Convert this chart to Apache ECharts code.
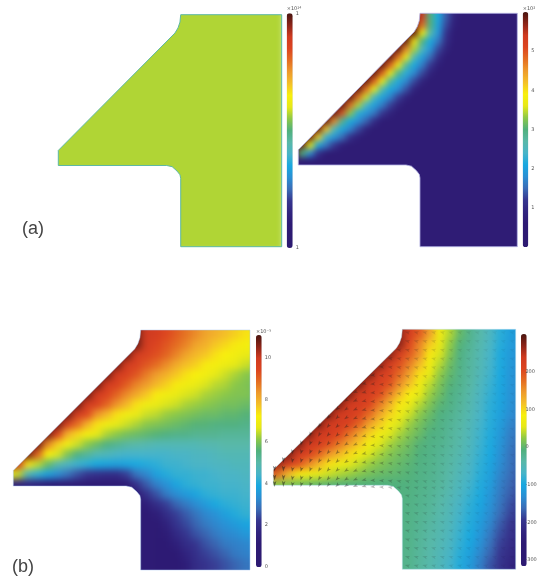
<!DOCTYPE html>
<html>
<head>
<meta charset="utf-8">
<title>Field maps</title>
<style>
  html, body { margin: 0; background: #fff; }
  #chart { width: 538px; height: 579px; }
</style>
<script src="https://cdn.jsdelivr.net/npm/echarts@6/dist/echarts.min.js"></script>
</head>
<body>
<div id="chart"></div>
<script>
const _ = null, n = 0.4, m = 0.6;

// colour scale, bottom to top
const colorStops = ['#2d1a72', '#2d1a72', '#2d1a74', '#31247f', '#36368f', '#3a6cb6', '#2a8fd4', '#18a8e0', '#48b4c8', '#58b8a8', '#50b07c', '#8cc848', '#e6e818', '#f8f00c', '#f4c028', '#ee9a2c', '#e46c22', '#dc4420', '#d03a20', '#8c2418', '#4a1510'];

// outline of the section: x is 0 at the tip and 1 at the neck, y is 0 at the top and 1 at the bottom
const shapeX = [1, 0.994, 0.978, 0.953, 0, 0, 0.886, 0.93, 0.97, 0.994, 1, 1];
const shapeY = [0, 0.032, 0.057, 0.079, 0.585, 0.65, 0.65, 0.655, 0.674, 0.69, 0.705, 1];

// panel (a), left: the field is uniform
const fieldA1 = [
  [0.14, 0.14],
  [0.14, 0.14]
];

// panel (a), right
const navyRow = [n, n, n, n, n, n, n, n, n, n, n, n, n, n, n, n, n, n, n, n, n, n, n, n, n, n, n, n, n, n];
const fieldA2 = [
  [_, _, _, _, _, _, _, _, _, _, _, _, _, _, 5.9, 5.9, 5.4, 3.0, 2.1, 1.4, 0.8, n, n, n, n, n, n, n, n, n],
  [_, _, _, _, _, _, _, _, _, _, _, _, _, _, 5.9, 5.9, 5.4, 3.0, 2.1, 1.4, 0.8, n, n, n, n, n, n, n, n, n],
  [_, _, _, _, _, _, _, _, _, _, _, _, _, _, 5.9, 5.9, 4.8, 3.0, 2.0, 1.3, 0.7, n, n, n, n, n, n, n, n, n],
  [_, _, _, _, _, _, _, _, _, _, _, _, _, _, 5.9, 5.9, 3.8, 2.7, 1.9, 1.1, m, n, n, n, n, n, n, n, n, n],
  [_, _, _, _, _, _, _, _, _, _, _, _, _, 5.9, 5.9, 4.0, 3.0, 2.1, 1.6, 1.0, m, n, n, n, n, n, n, n, n, n],
  [_, _, _, _, _, _, _, _, _, _, _, _, 5.9, 5.9, 4.6, 3.4, 2.5, 1.9, 1.3, 0.8, n, n, n, n, n, n, n, n, n, n],
  [_, _, _, _, _, _, _, _, _, _, _, 5.9, 5.9, 4.8, 3.6, 2.6, 2.0, 1.5, 1.0, m, n, n, n, n, n, n, n, n, n, n],
  [_, _, _, _, _, _, _, _, _, _, 5.9, 5.9, 4.9, 3.7, 2.8, 2.1, 1.65, 1.2, 0.7, n, n, n, n, n, n, n, n, n, n, n],
  [_, _, _, _, _, _, _, _, _, 5.9, 5.9, 4.9, 3.7, 2.9, 2.2, 1.75, 1.3, 0.8, n, n, n, n, n, n, n, n, n, n, n, n],
  [_, _, _, _, _, _, _, _, 5.9, 5.9, 4.9, 3.7, 2.8, 2.15, 1.75, 1.3, 0.8, n, n, n, n, n, n, n, n, n, n, n, n, n],
  [_, _, _, _, _, _, _, 5.9, 5.9, 4.8, 3.6, 2.7, 2.1, 1.8, 1.35, 0.8, n, n, n, n, n, n, n, n, n, n, n, n, n, n],
  [_, _, _, _, _, _, 5.9, 5.9, 4.8, 3.5, 2.5, 2.05, 1.7, 1.25, 0.8, n, n, n, n, n, n, n, n, n, n, n, n, n, n, n],
  [_, _, _, _, _, 5.9, 5.9, 4.8, 3.4, 2.4, 2.0, 1.65, 1.25, 0.8, n, n, n, n, n, n, n, n, n, n, n, n, n, n, n, n],
  [_, _, _, _, 5.9, 5.9, 5.0, 3.3, 2.2, 1.9, 1.6, 1.2, 0.8, n, n, n, n, n, n, n, n, n, n, n, n, n, n, n, n, n],
  [_, _, _, 5.9, 5.9, 4.6, 2.9, 2.1, 1.8, 1.45, 1.0, m, n, n, n, n, n, n, n, n, n, n, n, n, n, n, n, n, n, n],
  [_, _, 5.9, 5.9, 4.2, 2.6, 2.05, 1.7, 1.3, 0.8, n, n, n, n, n, n, n, n, n, n, n, n, n, n, n, n, n, n, n, n],
  [_, 5.9, 5.9, 4.1, 2.3, 1.9, 1.5, 1.05, 0.7, n, n, n, n, n, n, n, n, n, n, n, n, n, n, n, n, n, n, n, n, n],
  [5.9, 5.9, 3.7, 2.1, 1.6, 1.2, 0.7, n, n, n, n, n, n, n, n, n, n, n, n, n, n, n, n, n, n, n, n, n, n, n],
  [5.9, 3.0, 1.8, 1.1, m, n, n, n, n, n, n, n, n, n, n, n, n, n, n, n, n, n, n, n, n, n, n, n, n, n],
  [0.9, 0.6, n, n, n, n, n, n, n, n, n, n, n, n, n, n, n, n, n, n, n, n, n, n, n, n, n, n, n, n],
  navyRow, navyRow, navyRow, navyRow, navyRow, navyRow, navyRow, navyRow, navyRow, navyRow, navyRow, navyRow
];

// panel (b), left
const fieldB1 = [
  [_, _, _, _, _, _, _, _, _, _, _, _, 10.8, 10.8, 10, 9.8, 9.4, 9.1, 8.8, 8.5, 8.2, 8.0, 7.8, 7.6, 7.4, 7.3],
  [_, _, _, _, _, _, _, _, _, _, _, _, 10.8, 10.8, 10, 9.8, 9.4, 9.1, 8.8, 8.5, 8.2, 8.0, 7.8, 7.6, 7.4, 7.3],
  [_, _, _, _, _, _, _, _, _, _, _, _, 10.8, 10.8, 9.9, 9.5, 9.2, 8.9, 8.6, 8.2, 8.0, 7.7, 7.5, 7.3, 7.1, 7.0],
  [_, _, _, _, _, _, _, _, _, _, _, 10.8, 10.8, 9.9, 9.6, 9.3, 9.0, 8.6, 8.2, 7.9, 7.7, 7.4, 7.2, 7.0, 6.8, 6.7],
  [_, _, _, _, _, _, _, _, _, _, 10.8, 10.8, 9.9, 9.6, 9.2, 8.9, 8.5, 8.1, 7.8, 7.6, 7.3, 7.1, 6.9, 6.7, 6.5, 6.4],
  [_, _, _, _, _, _, _, _, _, 10.8, 10.8, 9.9, 9.6, 9.2, 8.7, 8.3, 8.0, 7.7, 7.4, 7.2, 7.0, 6.7, 6.5, 6.3, 6.1, 6.0],
  [_, _, _, _, _, _, _, _, 10.8, 10.8, 9.9, 9.6, 9.1, 8.6, 8.3, 7.9, 7.6, 7.3, 7.0, 6.8, 6.6, 6.4, 6.3, 6.1, 6.0, 5.9],
  [_, _, _, _, _, _, _, 10.8, 10.8, 9.9, 9.5, 9.0, 8.5, 8.1, 7.7, 7.3, 7.0, 6.8, 6.6, 6.5, 6.3, 6.2, 6.1, 6.0, 6.0, 5.9],
  [_, _, _, _, _, _, 10.8, 10.8, 9.9, 9.6, 9.0, 8.4, 7.9, 7.4, 7.0, 6.8, 6.6, 6.5, 6.3, 6.2, 6.1, 6.0, 5.9, 5.9, 5.8, 5.8],
  [_, _, _, _, _, 10.8, 10.8, 9.9, 9.4, 8.4, 7.9, 7.4, 7.0, 6.8, 6.5, 6.4, 6.2, 6.1, 6.0, 5.9, 5.8, 5.8, 5.7, 5.7, 5.6, 5.6],
  [_, _, _, _, 10.8, 10.8, 9.7, 8.9, 8.0, 7.4, 7.0, 6.7, 6.5, 6.3, 6.1, 6.0, 5.9, 5.8, 5.7, 5.6, 5.6, 5.5, 5.5, 5.5, 5.4, 5.4],
  [_, _, _, 10.8, 10.8, 9.5, 8.0, 7.5, 7.1, 6.7, 6.3, 6.1, 5.9, 5.8, 5.7, 5.6, 5.5, 5.4, 5.4, 5.3, 5.3, 5.3, 5.2, 5.2, 5.2, 5.2],
  [_, _, 10.8, 10.8, 8.6, 7.6, 7.0, 6.5, 6.1, 5.8, 5.5, 5.3, 5.1, 5.0, 4.9, 4.8, 4.8, 4.8, 4.8, 4.8, 4.9, 4.9, 5.0, 5.0, 5.0, 5.0],
  [_, 10.8, 10.8, 9.0, 7.2, 6.6, 6.0, 5.5, 5.2, 4.8, 4.7, 4.5, 4.4, 4.4, 4.4, 4.4, 4.4, 4.5, 4.5, 4.6, 4.6, 4.7, 4.8, 4.8, 4.8, 4.8],
  [10.8, 10, 7.4, 6.4, 5.8, 5.0, 4.6, 4.3, 4.1, 3.9, 3.8, 3.7, 3.8, 3.9, 4.0, 4.1, 4.3, 4.3, 4.4, 4.5, 4.5, 4.6, 4.6, 4.7, 4.7, 4.7],
  [7, 6.5, 4.8, 4.2, 3.7, 3.3, 2.9, 2.5, 2.2, 2.0, 1.9, 1.9, 2.3, 2.9, 3.2, 3.7, 4.0, 4.2, 4.2, 4.3, 4.3, 4.4, 4.5, 4.5, 4.6, 4.6],
  [1.5, 1.5, 1.7, 1.5, 1.2, 1, 1, 1, 1, 1, 1, 1, 1, 2.0, 2.6, 3.1, 3.4, 3.8, 4.1, 4.2, 4.3, 4.3, 4.4, 4.4, 4.5, 4.5],
  [1, 1, 1, 1, 1, 1, 1, 1, 1, 1, 1, 1, 1, 1, 2.0, 2.5, 3.0, 3.3, 3.6, 3.8, 4.1, 4.2, 4.3, 4.3, 4.4, 4.4],
  [_, _, _, _, _, _, _, _, _, _, _, _, 1, 1, 1.3, 1.9, 2.3, 2.7, 3.0, 3.3, 3.6, 3.9, 4.1, 4.2, 4.3, 4.3],
  [_, _, _, _, _, _, _, _, _, _, _, _, 1, 1, 1, 1.3, 1.9, 2.3, 2.6, 2.9, 3.2, 3.4, 3.7, 4.0, 4.2, 4.2],
  [_, _, _, _, _, _, _, _, _, _, _, _, 1, 1, 1, 1.1, 1.5, 2.1, 2.4, 2.7, 3.0, 3.2, 3.4, 3.6, 3.8, 3.9],
  [_, _, _, _, _, _, _, _, _, _, _, _, 1, 1, 1, 1, 1.2, 1.8, 2.2, 2.5, 2.7, 3.0, 3.2, 3.3, 3.5, 3.6],
  [_, _, _, _, _, _, _, _, _, _, _, _, 1, 1, 1, 1, 1, 1.4, 1.9, 2.2, 2.5, 2.7, 3.0, 3.1, 3.2, 3.3],
  [_, _, _, _, _, _, _, _, _, _, _, _, 1, 1, 1, 1, 1, 1.1, 1.6, 2.0, 2.3, 2.5, 2.7, 3.0, 3.1, 3.2],
  [_, _, _, _, _, _, _, _, _, _, _, _, 1, 1, 1, 1, 1, 1, 1.3, 1.9, 2.1, 2.3, 2.5, 2.7, 2.9, 3.0],
  [_, _, _, _, _, _, _, _, _, _, _, _, 1, 1, 1, 1, 1, 1, 1.3, 1.9, 2.1, 2.3, 2.5, 2.7, 2.9, 3.0]
];

// panel (b), right
const fieldB2 = [
  [_, _, _, _, _, _, _, _, _, _, _, _, 270, 270, 225, 190, 140, 70, 36, 3, -20, -40, -62, -90, -112, -125],
  [_, _, _, _, _, _, _, _, _, _, _, _, 270, 270, 225, 190, 140, 70, 36, 3, -20, -40, -62, -90, -112, -125],
  [_, _, _, _, _, _, _, _, _, _, _, _, 270, 270, 205, 160, 110, 58, 25, -6, -25, -44, -65, -92, -115, -128],
  [_, _, _, _, _, _, _, _, _, _, _, 275, 275, 225, 190, 150, 90, 50, 18, -12, -30, -48, -70, -97, -118, -130],
  [_, _, _, _, _, _, _, _, _, _, 275, 275, 232, 200, 165, 120, 72, 38, 8, -14, -32, -50, -72, -98, -120, -132],
  [_, _, _, _, _, _, _, _, _, 280, 280, 232, 215, 180, 140, 95, 55, 25, 2, -18, -33, -53, -75, -100, -122, -134],
  [_, _, _, _, _, _, _, _, 280, 280, 232, 222, 200, 155, 115, 70, 40, 15, -5, -20, -36, -58, -80, -103, -124, -136],
  [_, _, _, _, _, _, _, 280, 280, 232, 225, 205, 165, 120, 85, 55, 28, 8, -12, -24, -42, -62, -84, -105, -126, -138],
  [_, _, _, _, _, _, 280, 280, 235, 228, 210, 170, 130, 90, 62, 38, 17, -2, -14, -28, -46, -66, -88, -107, -128, -141],
  [_, _, _, _, _, 280, 280, 235, 228, 210, 180, 140, 105, 67, 45, 23, 6, -10, -20, -32, -48, -68, -90, -110, -132, -146],
  [_, _, _, _, 280, 280, 235, 230, 215, 185, 142, 110, 70, 50, 28, 12, -2, -14, -25, -36, -52, -72, -92, -115, -140, -152],
  [_, _, _, 280, 280, 238, 232, 208, 175, 140, 105, 70, 52, 33, 18, 5, -10, -16, -28, -40, -55, -76, -95, -120, -146, -158],
  [_, _, 280, 280, 238, 228, 200, 170, 140, 110, 72, 52, 33, 20, 8, -5, -14, -20, -30, -42, -58, -78, -98, -125, -150, -165],
  [_, 280, 280, 235, 215, 185, 150, 125, 100, 70, 50, 33, 20, 10, 2, -9, -16, -24, -34, -46, -62, -82, -100, -130, -155, -170],
  [265, 265, 232, 200, 160, 125, 95, 65, 53, 42, 28, 18, 10, 3, -3, -12, -18, -26, -36, -50, -66, -86, -106, -134, -156, -172],
  [220, 175, 125, 90, 70, 55, 45, 36, 29, 20, 12, 6, 2, -2, -6, -14, -20, -28, -40, -54, -70, -90, -110, -140, -160, -175],
  [30, 25, 20, 15, 10, 5, 0, -3, -5, -6, -7, -8, -8, -8, -10, -16, -22, -30, -43, -58, -74, -94, -115, -146, -165, -180],
  [-8, -8, -8, -8, -8, -8, -8, -8, -8, -8, -8, -8, -8, -10, -12, -18, -24, -34, -47, -62, -80, -98, -122, -150, -170, -185],
  [_, _, _, _, _, _, _, _, _, _, _, _, -12, -12, -14, -20, -27, -38, -51, -68, -86, -104, -128, -155, -178, -192],
  [_, _, _, _, _, _, _, _, _, _, _, _, -12, -13, -15, -22, -30, -42, -53, -72, -90, -110, -134, -162, -185, -198],
  [_, _, _, _, _, _, _, _, _, _, _, _, -13, -14, -16, -24, -33, -44, -56, -76, -94, -116, -140, -172, -194, -206],
  [_, _, _, _, _, _, _, _, _, _, _, _, -14, -15, -17, -26, -36, -46, -59, -80, -99, -122, -150, -180, -202, -214],
  [_, _, _, _, _, _, _, _, _, _, _, _, -14, -16, -18, -28, -38, -49, -63, -84, -104, -130, -158, -188, -208, -222],
  [_, _, _, _, _, _, _, _, _, _, _, _, -15, -17, -19, -30, -40, -52, -67, -90, -110, -138, -166, -194, -214, -230],
  [_, _, _, _, _, _, _, _, _, _, _, _, -15, -18, -20, -31, -42, -54, -72, -94, -118, -146, -176, -200, -222, -238],
  [_, _, _, _, _, _, _, _, _, _, _, _, -15, -18, -20, -31, -42, -54, -72, -94, -118, -146, -176, -200, -222, -238]
];

// arrows of panel (b), right
const arrowX = [0.01, 0.077, 0.145, 0.212, 0.28, 0.347, 0.414, 0.482, 0.549, 0.617, 0.684, 0.751, 0.819, 0.886, 0.954, 1.02, 1.088, 1.155, 1.223, 1.29, 1.357, 1.425, 1.492, 1.56, 1.627, 1.694, 1.762, 1.83];
const arrowY = [0.01, 0.0465, 0.083, 0.1195, 0.156, 0.1925, 0.229, 0.2655, 0.302, 0.3385, 0.375, 0.4115, 0.448, 0.4845, 0.521, 0.5575, 0.594, 0.6305, 0.657, 0.69, 0.727, 0.763, 0.8, 0.836, 0.873, 0.909, 0.946, 0.982];
const arrowFirstCol = [15, 15, 14, 13, 12, 11, 10, 9, 8, 7, 6, 5, 4, 3, 2, 1, 0, 0, 0, 15, 15, 15, 15, 15, 15, 15, 15, 15];
const arrowRotate = [180, 176, 170, 165, 158, 150, 142, 135, 125, 115, 105, 95, 88, 82, 78, 75, 75, 75, 75, 75, 75, 75, 75, 75, 75, 75, 75, 75];
const arrowLength = [6, 6, 5, 5, 5, 5, 5, 5, 5, 5, 5, 5, 5, 5, 5, 5, 5, 5, 5, 5, 5, 5, 5, 5, 5, 5, 5, 5];
const arrowAlpha = [0.6, 0.55, 0.5, 0.48, 0.45, 0.42, 0.4, 0.4, 0.38, 0.36, 0.34, 0.3, 0.28, 0.25, 0.22, 0.2, 0.17, 0.15, 0.13, 0.12, 0.1, 0.09, 0.08, 0.07, 0.06, 0.05, 0.05, 0.05];

// colour bars
const panels = [
  {
    field: fieldA1, min: -1, max: 1, ticks: [-1, 1], tickLabels: { '-1': '1', '1': '1' }, power: '×10¹⁴',
    section: [58.3, 14.7, 223.4, 232], neckRight: 1.825, heat: [52, 8, 232, 244], heatLayer: 0,
    bar: [286.7, 13.3, 6, 234.7], mask: [18, 14, 16, 20], edge: '#5db8a4', edgeWidth: 1
  },
  {
    field: fieldA2, min: 0, max: 6, ticks: [1, 2, 3, 4, 5], power: '×10²',
    section: [298.3, 13.3, 219, 233.4], neckRight: 1.8, heat: [290.3, 5.3, 240, 256], heatLayer: 1,
    bar: [522.7, 12, 5.6, 235], mask: [15, 25, 20, 24], edge: '#b4b4e4', edgeWidth: 0.8
  },
  {
    field: fieldB1, min: 0, max: 11.1, ticks: [0, 2, 4, 6, 8, 10], power: '×10⁻⁵',
    section: [13.3, 330, 236.7, 240], neckRight: 1.858, heat: [3.44, 320, 256.4, 260], heatLayer: 0,
    bar: [256, 335, 5.7, 232], mask: [20, 20, 22, 10], edge: 'rgba(168,200,240,0.6)', edgeWidth: 0.8
  },
  {
    field: fieldB2, min: -316, max: 300, ticks: [-300, -200, -100, 0, 100, 200],
    section: [273.3, 329.3, 242.4, 240], neckRight: 1.879, heat: [263.2, 319.3, 262.6, 260], heatLayer: 0,
    bar: [521, 334, 5.7, 232], mask: [20, 22, 22, 10], edge: 'rgba(184,224,240,0.6)', edgeWidth: 0.8
  }
];

function rect(r) {
  return { left: r[0], top: r[1], width: r[2], height: r[3] };
}

function indexList(len) {
  return Array.from({ length: len }, (v, i) => i);
}

function heatData(field) {
  const out = [];
  field.forEach((row, r) => row.forEach((v, c) => {
    if (v !== null) out.push([c, r, v]);
  }));
  return out;
}

function arrowData() {
  const out = [];
  arrowY.forEach((y, r) => {
    for (let c = arrowFirstCol[r]; c < arrowX.length; c++) {
      out.push({
        value: [arrowX[c], y],
        symbolRotate: arrowRotate[c],
        symbolSize: [2.6, arrowLength[c]],
        itemStyle: { opacity: arrowAlpha[c] }
      });
    }
  });
  return out;
}

// white cover around the section, so the smoothed field keeps a clean outline
function sectionRenderer(p) {
  return function (params, api) {
    const cs = params.coordSys;
    const oL = cs.x - p.mask[0], oR = cs.x + cs.width + p.mask[1];
    const oT = cs.y - p.mask[2], oB = cs.y + cs.height + p.mask[3];
    const line = shapeX.map((x, i) => api.coord([x, shapeY[i]]));
    const first = line[0], last = line[line.length - 1];
    const topRight = api.coord([p.neckRight, 0]);
    const outline = line.concat([[topRight[0], last[1]], topRight]);
    const white = { fill: '#fff' };
    return {
      type: 'group',
      children: [
        { type: 'polygon', shape: { points: [[oL, oT], [first[0], oT]].concat(line, [[last[0], oB], [oL, oB]]) }, style: white },
        { type: 'polygon', shape: { points: [[oL, oT], [oR, oT], [oR, first[1]], [oL, first[1]]] }, style: white },
        { type: 'polygon', shape: { points: [[topRight[0], oT], [oR, oT], [oR, oB], [topRight[0], oB]] }, style: white },
        { type: 'polygon', shape: { points: [[oL, last[1]], [oR, last[1]], [oR, oB], [oL, oB]] }, style: white },
        { type: 'polygon', shape: { points: outline }, style: { fill: 'none', stroke: p.edge, lineWidth: p.edgeWidth } }
      ]
    };
  };
}

const grid = [], xAxis = [], yAxis = [], series = [], visualMap = [];

panels.forEach((p, i) => {
  const heatIdx = i * 3, secIdx = i * 3 + 1, barIdx = i * 3 + 2;

  // field
  grid.push(rect(p.heat));
  xAxis.push({ type: 'category', gridIndex: heatIdx, show: false, data: indexList(p.field[0].length) });
  yAxis.push({ type: 'category', gridIndex: heatIdx, show: false, inverse: true, data: indexList(p.field.length) });

  // section outline
  grid.push(rect(p.section));
  xAxis.push({ type: 'value', gridIndex: secIdx, show: false, min: 0, max: p.neckRight });
  yAxis.push({ type: 'value', gridIndex: secIdx, show: false, inverse: true, min: 0, max: 1 });

  // colour bar scale
  grid.push(rect(p.bar));
  xAxis.push({ type: 'value', gridIndex: barIdx, show: false, min: 0, max: 1 });
  yAxis.push({
    type: 'value', gridIndex: barIdx, position: 'right', min: p.min, max: p.max, zlevel: 2, z: 5,
    name: p.power || '', nameLocation: 'end', nameGap: 1,
    nameTextStyle: { fontSize: 5, color: '#555', fontFamily: 'DejaVu Sans', align: 'left' },
    axisLine: { show: false }, axisTick: { show: false }, splitLine: { show: false },
    axisLabel: {
      margin: 3, fontSize: 5, color: '#555', fontFamily: 'DejaVu Sans',
      customValues: p.ticks,
      formatter: v => (p.tickLabels ? p.tickLabels[v] : String(v))
    }
  });

  series.push({
    type: 'heatmap', xAxisIndex: heatIdx, yAxisIndex: heatIdx, zlevel: p.heatLayer,
    data: heatData(p.field), silent: true, progressive: 0, animation: false
  });

  visualMap.push({
    type: 'continuous', seriesIndex: i, min: p.min, max: p.max, calculable: false, hoverLink: false,
    left: p.bar[0], top: p.bar[1], itemWidth: p.bar[2], itemHeight: p.bar[3], padding: 0, text: null,
    showLabel: false, zlevel: 2, z: 5, inRange: { color: colorStops }
  });
});

panels.forEach((p, i) => {
  series.push({
    type: 'custom', xAxisIndex: i * 3 + 1, yAxisIndex: i * 3 + 1, zlevel: 2, z: 2,
    data: [[0, 0]], renderItem: sectionRenderer(p), silent: true, animation: false
  });
});

series.push({
  type: 'scatter', xAxisIndex: 10, yAxisIndex: 10, zlevel: 2, z: 3, symbol: 'arrow',
  data: arrowData(), itemStyle: { color: '#1c1c1c' }, silent: true, animation: false
});

const chart = echarts.init(document.getElementById('chart'));
chart.setOption({
  backgroundColor: '#fff',
  animation: false,
  title: [
    { text: '(a)', left: 17, top: 215, zlevel: 2, textStyle: { fontSize: 18, fontWeight: 'normal', color: '#444', fontFamily: 'Liberation Sans' } },
    { text: '(b)', left: 7, top: 553, zlevel: 2, textStyle: { fontSize: 18, fontWeight: 'normal', color: '#444', fontFamily: 'Liberation Sans' } }
  ],
  grid: grid,
  xAxis: xAxis,
  yAxis: yAxis,
  visualMap: visualMap,
  series: series
});

// the source is a soft scan: smooth the field layers, just soften the rest
const layerBlur = { zr_0: 'blur(3.5px)', zr_1: 'blur(3px)', zr_2: 'blur(0.5px)' };
document.querySelectorAll('#chart canvas').forEach(cv => {
  cv.style.filter = layerBlur[cv.getAttribute('data-zr-dom-id')] || 'none';
});
</script>
</body>
</html>
